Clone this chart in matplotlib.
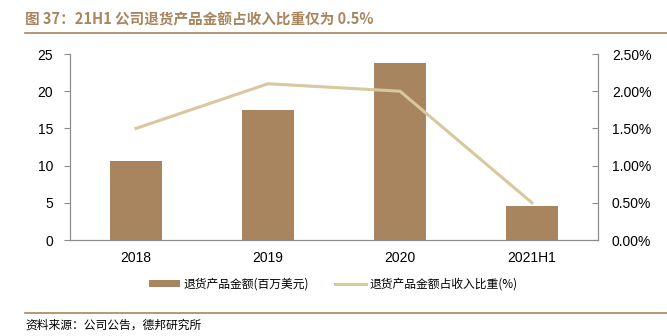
import matplotlib.pyplot as plt
from matplotlib.ticker import FuncFormatter
from matplotlib.lines import Line2D

plt.rcParams['font.family'] = ['Liberation Sans', 'Noto Sans CJK SC', 'DejaVu Sans']

categories = ["2018", "2019", "2020", "2021H1"]
amount = [10.6, 17.5, 23.8, 4.55]
ratio = [1.50, 2.10, 2.00, 0.50]

BAR_COLOR = "#A8855E"
LINE_COLOR = "#D8C79F"
SPINE = "#8C8C8C"
CJK = ['Noto Sans CJK SC', 'DejaVu Sans']

fig = plt.figure(figsize=(6.67, 3.36), dpi=100)
ax = fig.add_axes([70 / 667, 1 - 240 / 336, 528 / 667, 186 / 336])
x = list(range(len(categories)))
bars = ax.bar(x, amount, width=0.4, color=BAR_COLOR, zorder=2)
ax.set_xlim(-0.5, 3.5)
ax.set_ylim(0, 25)
ax.set_yticks(range(0, 26, 5))
ax.set_xticks(x)
ax.set_xticklabels(categories)
ax.tick_params(axis='x', length=0, pad=8, labelsize=10)
ax.tick_params(axis='y', length=4, direction='out', color=SPINE, labelsize=10, pad=8)
ax.spines["top"].set_visible(False)
for s in ["left", "bottom", "right"]:
    ax.spines[s].set_color(SPINE)
    ax.spines[s].set_linewidth(0.8)

ax2 = ax.twinx()
ax2.plot(x, ratio, color=LINE_COLOR, linewidth=2.2, zorder=3)
ax2.set_ylim(0, 2.5)
ax2.set_yticks([0, 0.5, 1.0, 1.5, 2.0, 2.5])
ax2.yaxis.set_major_formatter(FuncFormatter(lambda v, p: f"{v:.2f}%"))
ax2.tick_params(axis='y', length=4, direction='in', color=SPINE, labelsize=10, pad=10)
ax2.spines["top"].set_visible(False)
for s in ["left", "bottom", "right"]:
    ax2.spines[s].set_color(SPINE)
    ax2.spines[s].set_linewidth(0.8)

handles = [bars, Line2D([0], [0], color=LINE_COLOR, linewidth=2.2)]
labels = ["退货产品金额(百万美元)", "退货产品金额占收入比重(%)"]
fig.legend(handles, labels, loc="center", bbox_to_anchor=(0.5, 1 - 284 / 336),
           ncol=2, frameon=False, prop={'family': CJK, 'size': 8.5},
           handlelength=2.6, handleheight=0.5, handletextpad=0.3, columnspacing=2.2)

fig.text(25 / 667, 1 - 19 / 336, "图 37：21H1 公司退货产品金额占收入比重仅为 0.5%",
         fontsize=10.5, fontweight="bold", color="#A8855E", va="center", family=CJK)
fig.add_artist(Line2D([25 / 667, 1], [1 - 33 / 336] * 2, color="#A8855E", linewidth=1.2))
fig.add_artist(Line2D([25 / 667, 1], [1 - 313 / 336] * 2, color="#A8855E", linewidth=1.2))
fig.text(25 / 667, 1 - 325 / 336, "资料来源：公司公告，德邦研究所", fontsize=8.5, va="center",
         family=CJK)

fig.savefig("out.png", dpi=100)
